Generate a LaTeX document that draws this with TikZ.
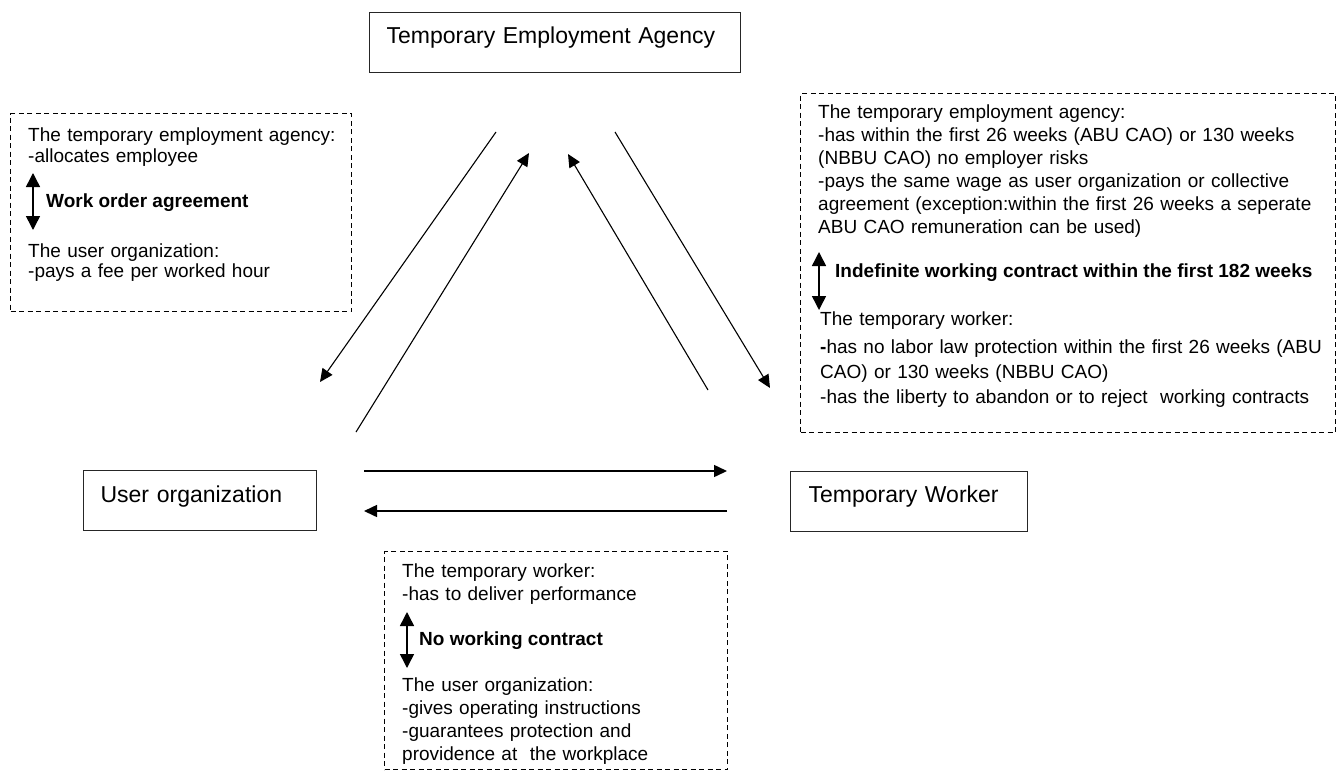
\documentclass[tikz,border=0pt]{standalone}
\usepackage{fontspec}
\setmainfont{Liberation Sans}
\usetikzlibrary{arrows.meta}

\tikzset{
  party/.style={draw=black!85, line width=1.2pt, anchor=north west, inner xsep=17pt, inner ysep=0pt,
                align=left, font=\fontsize{23}{27}\selectfont},
  frame/.style={draw, dashed, line width=1pt, dash pattern=on 5pt off 3.5pt, anchor=north west,
                inner sep=0pt},
  txt/.style={anchor=base west, inner sep=0pt, align=left, text width=520pt},
  lbl/.style={anchor=base west, inner sep=0pt, font=\fontsize{19}{22}\selectfont\bfseries},
  flow/.style={-{Triangle[length=13pt,width=12pt]}, line width=1.1pt},
  dual/.style={{Triangle[length=14pt,width=14pt]}-{Triangle[length=14pt,width=14pt]}, line width=1.5pt},
}

\begin{document}
\begin{tikzpicture}[x=1pt,y=-1pt]
\useasboundingbox (0,0) rectangle (1340,771);

% the three parties
\node[party, text height=31pt, text depth=29pt, text width=337pt] (agency) at (369,12)
  {Temporary Employment Agency};
\node[party, text height=32pt, text depth=28pt, text width=199pt] (user) at (83,470)
  {User organization};
\node[party, inner xsep=18pt, text height=31pt, text depth=29pt, text width=201pt] (worker) at (790,471)
  {Temporary Worker};

% arrows between the parties
\coordinate (a1) at (496,132); \coordinate (u1) at (320,382);
\coordinate (u2) at (356,432); \coordinate (a2) at (529,153);
\coordinate (w1) at (708,390); \coordinate (a3) at (568,154);
\coordinate (a4) at (615,132); \coordinate (w2) at (770,388);
\coordinate (u3) at (364,471); \coordinate (w3) at (727,471);
\coordinate (w4) at (727,511); \coordinate (u4) at (364,511);
\draw[flow] (a1) -- (u1);
\draw[flow] (u2) -- (a2);
\draw[flow] (w1) -- (a3);
\draw[flow] (a4) -- (w2);
\draw[flow, line width=1.5pt] (u3) -- (w3);
\draw[flow, line width=1.5pt] (w4) -- (u4);

% agency <-> user organization
\node[frame, minimum width=341pt, minimum height=198pt] (fleft) at (10,113) {};
\node[txt, font=\fontsize{19}{21}\selectfont] (la) at (28,141)
  {The temporary employment agency:\\-allocates employee};
\node[lbl] (lw) at (46,207) {Work order agreement};
\node[txt, font=\fontsize{19}{20}\selectfont] (lb) at (28,257)
  {The user organization:\\-pays a fee per worked hour};
\coordinate (lt) at (33,173); \coordinate (lbt) at (33,230);
\draw[dual] (lt) -- (lbt);

% agency <-> temporary worker
\node[frame, minimum width=535pt, minimum height=339pt] (fright) at (800,93) {};
\node[txt, font=\fontsize{19}{23}\selectfont] (ra) at (818,118)
  {The temporary employment agency:\\
   -has within the first 26 weeks (ABU CAO) or 130 weeks\\
   (NBBU CAO) no employer risks\\
   -pays the same wage as user organization or collective\\
   agreement (exception:within the first 26 weeks a seperate\\
   ABU CAO remuneration can be used)};
\node[lbl] (rw) at (835,277) {Indefinite working contract within the first 182 weeks};
\node[txt, font=\fontsize{19}{25}\selectfont] (rb) at (820,325)
  {The temporary worker:\\[3pt]
   \textbf{-}has no labor law protection within the first 26 weeks (ABU\\
   CAO) or 130 weeks (NBBU CAO)\\
   -has the liberty to abandon or to reject \ working contracts};
\coordinate (rt) at (819,252); \coordinate (rbt) at (819,310);
\draw[dual] (rt) -- (rbt);

% user organization <-> temporary worker
\node[frame, minimum width=343pt, minimum height=218pt] (fbottom) at (384,551) {};
\node[txt, font=\fontsize{19}{23}\selectfont] (ba) at (402,577)
  {The temporary worker:\\-has to deliver performance};
\node[lbl] (bw) at (419,645) {No working contract};
\node[txt, font=\fontsize{19}{23}\selectfont] (bb) at (402,691)
  {The user organization:\\
   -gives operating instructions\\
   -guarantees protection and\\
   providence at \ the workplace};
\coordinate (bt) at (407,612); \coordinate (bbt) at (407,668);
\draw[dual] (bt) -- (bbt);
\end{tikzpicture}
\end{document}
